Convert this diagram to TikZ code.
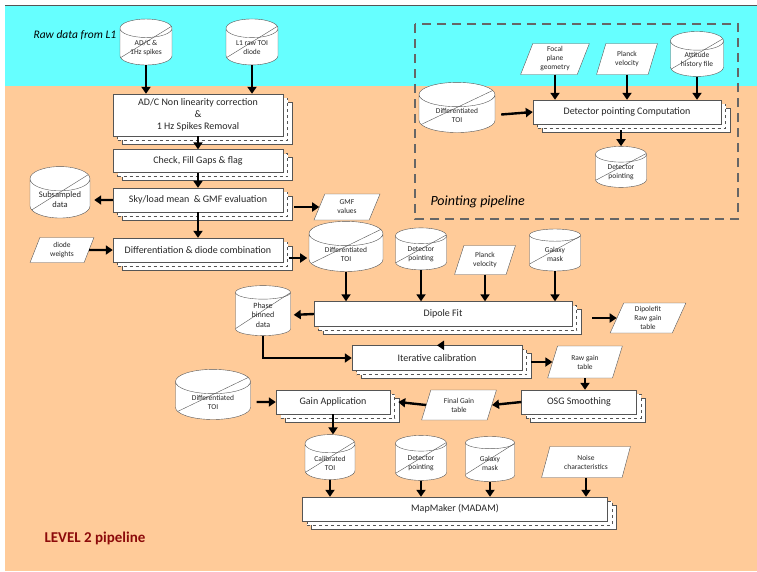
\documentclass[tikz,border=0pt]{standalone}
\usepackage{fontspec}
\setmainfont{Carlito}
\usetikzlibrary{shapes.geometric,shadows,arrows.meta,positioning}

\definecolor{rawcyan}{RGB}{102,255,255}
\definecolor{levelpeach}{RGB}{255,203,153}
\definecolor{edgegray}{RGB}{85,85,85}
\definecolor{titlered}{RGB}{140,10,10}

\tikzset{
    procbox/.style={rectangle, draw=edgegray, fill=white, align=center, inner sep=2pt,
        font=\fontsize{10}{12}\selectfont, text=black!85,
        copy shadow={shadow xshift=9pt, shadow yshift=-8pt, draw=edgegray},
        copy shadow={shadow xshift=4.5pt, shadow yshift=-4pt, draw=edgegray, dashed}},
    datastore/.style={cylinder, shape border rotate=90, aspect=0.55, draw=edgegray, fill=white,
        align=center, inner sep=1pt, font=\fontsize{7.5}{9}\selectfont, text=black!85,
        path picture={\draw[edgegray] ([yshift=7pt]path picture bounding box.south west)
            -- ([yshift=-7pt]path picture bounding box.north east);}},
    iodata/.style={trapezium, trapezium left angle=72, trapezium right angle=108,
        trapezium stretches=true, draw=edgegray, fill=white, align=center, inner sep=1pt,
        font=\fontsize{7.5}{9}\selectfont, text=black!85},
    flowarrow/.style={line width=2.4pt, -{Triangle[width=9pt,length=7pt]}}
}

\begin{document}
\begin{tikzpicture}[x=1pt,y=-1pt]
    \useasboundingbox (0,0) rectangle (757,571);
    \fill[white] (0,0) rectangle (757,571);
    \fill[rawcyan] (5,5) rectangle (757,86);
    \fill[levelpeach] (5,86) rectangle (757,571);
    \draw[edgegray, line width=1pt] (5,5) -- (757,5);

    \node[anchor=west, font=\fontsize{11.5}{13}\selectfont\itshape] (rawlabel) at (30,35) {Raw data from L1};
    \node[anchor=west, font=\fontsize{15}{17}\selectfont\bfseries, text=titlered] (leveltitle) at (41,538) {LEVEL 2 pipeline};

    \draw[gray!80!black, line width=2pt, dash pattern=on 9pt off 6pt] (415,24) rectangle (738,219);
    \node[anchor=west, font=\fontsize{14}{16}\selectfont\itshape] (pointlabel) at (427,202) {Pointing pipeline};

    \node[datastore, minimum width=52pt, minimum height=46pt] (rawadc) at (146,48) {AD/C \&\\1Hz spikes};
    \node[datastore, minimum width=52pt, minimum height=46pt] (rawtoi) at (252,48) {L1 raw TOI\\diode};

    \node[procbox, minimum width=170pt, minimum height=42pt] (nonlin) at (198,115) {AD/C Non linearity correction\\\&\\1 Hz Spikes Removal};
    \node[procbox, minimum width=170pt, minimum height=23pt] (gaps) at (198,161) {Check, Fill Gaps \& flag};
    \node[procbox, minimum width=170pt, minimum height=24pt] (skyload) at (198,200) {Sky/load mean\ \ \& GMF evaluation};
    \node[procbox, minimum width=170pt, minimum height=24pt] (diffcomb) at (198,250) {Differentiation \& diode combination};

    \node[datastore, minimum width=60pt, minimum height=44pt, font=\fontsize{8.5}{10}\selectfont] (subsampled) at (60,200) {Subsampled\\data};
    \node[iodata, minimum width=66pt, minimum height=26pt] (gmfvalues) at (347,207) {GMF\\values};
    \node[iodata, minimum width=64pt, minimum height=25pt] (diodeweights) at (62,250) {diode\\weights};

    \node[datastore, minimum width=74pt, minimum height=42pt] (difftoi) at (346,254) {Differentiated\\TOI};
    \node[datastore, minimum width=51pt, minimum height=42pt] (detpoint) at (421,254) {Detector\\pointing};
    \node[iodata, minimum width=61pt, minimum height=29pt] (planckvel) at (485,260) {Planck\\velocity};
    \node[datastore, minimum width=51pt, minimum height=42pt] (galmask) at (555,254) {Galaxy\\mask};

    \node[procbox, minimum width=258pt, minimum height=25pt] (dipolefit) at (443,314) {Dipole Fit};
    \node[datastore, minimum width=55pt, minimum height=50pt, font=\fontsize{8}{9.5}\selectfont] (phasebin) at (263,315) {Phase\\binned\\data};
    \node[iodata, minimum width=76pt, minimum height=30pt] (dipolegain) at (648,318) {Dipolefit\\Raw gain\\table};

    \node[procbox, minimum width=170pt, minimum height=25pt] (itercal) at (437,358) {Iterative calibration};
    \node[iodata, minimum width=75pt, minimum height=32pt] (rawgain) at (585,362) {Raw gain\\table};
    \node[procbox, minimum width=115pt, minimum height=24pt] (osgsmooth) at (579,402) {OSG Smoothing};
    \node[iodata, minimum width=75pt, minimum height=30pt] (finalgain) at (459,405) {Final Gain\\table};
    \node[procbox, minimum width=114pt, minimum height=24pt] (gainapp) at (333,402) {Gain Application};
    \node[datastore, minimum width=75pt, minimum height=40pt] (difftoib) at (213,402) {Differentiated\\TOI};

    \node[datastore, minimum width=50pt, minimum height=45pt] (caltoi) at (330,463) {Calibrated\\TOI};
    \node[datastore, minimum width=51pt, minimum height=45pt] (detpointb) at (421,463) {Detector\\pointing};
    \node[datastore, minimum width=49pt, minimum height=45pt] (galmaskb) at (490,463) {Galaxy\\mask};
    \node[iodata, minimum width=89pt, minimum height=31pt] (noise) at (586,462) {Noise\\characteristics};
    \node[procbox, minimum width=305pt, minimum height=24pt] (madam) at (455,509) {MapMaker (MADAM)};

    \node[iodata, minimum width=69pt, minimum height=31pt] (focalgeom) at (555,59) {Focal\\plane\\geometry};
    \node[iodata, minimum width=61pt, minimum height=31pt] (planckvelp) at (627,59) {Planck\\velocity};
    \node[datastore, minimum width=53pt, minimum height=45pt] (attitude) at (697,60) {Attitude\\history file};
    \node[procbox, minimum width=188pt, minimum height=24pt] (pointcomp) at (627,112) {Detector pointing Computation};
    \node[datastore, minimum width=76pt, minimum height=43pt] (difftoip) at (457,115) {Differentiated\\TOI};
    \node[datastore, minimum width=51pt, minimum height=41pt] (detpointp) at (621,172) {Detector\\pointing};

    \draw[flowarrow] (rawadc.south) -- (rawadc.south |- nonlin.north);
    \draw[flowarrow] (rawtoi.south) -- (rawtoi.south |- nonlin.north);
    \draw[flowarrow] (nonlin.south) -- (gaps.north);
    \draw[flowarrow] (gaps.south) -- (skyload.north);
    \draw[flowarrow] (skyload.south) -- (diffcomb.north);
    \draw[flowarrow, shorten >=4pt] (skyload.west) -- (subsampled.east);
    \draw[flowarrow] (gmfvalues.west -| skyload.east) ++(11,0) -- (gmfvalues.west);
    \draw[flowarrow] (diodeweights.east) -- (diffcomb.west);
    \draw[flowarrow] (diffcomb.east) ++(6,8) -- ++(18,0);

    \draw[flowarrow] (difftoi.south) -- (difftoi.south |- dipolefit.north);
    \draw[flowarrow] (detpoint.south) -- (detpoint.south |- dipolefit.north);
    \draw[flowarrow] (planckvel.south) -- (planckvel.south |- dipolefit.north);
    \draw[flowarrow] (galmask.south) -- (galmask.south |- dipolefit.north);
    \draw[flowarrow, shorten >=3pt] (dipolefit.west) -- (phasebin.east);
    \draw[flowarrow] (dipolegain.west -| dipolefit.east) ++(20,0) -- (dipolegain.west);
    \draw[flowarrow] (itercal.north -| dipolefit.south) -- (itercal.north);
    \draw[flowarrow] (phasebin.south) |- (itercal.west);
    \draw[flowarrow] (rawgain.west -| itercal.east) ++(9,0) -- (rawgain.west);
    \draw[flowarrow] (rawgain.south) -- (rawgain.south |- osgsmooth.north);
    \draw[flowarrow] (osgsmooth.west) -- (finalgain.east);
    \draw[flowarrow] (finalgain.west) -- ([xshift=8pt]gainapp.east);
    \draw[flowarrow, shorten <=6pt] (difftoib.east) -- (gainapp.west);
    \draw[flowarrow] (gainapp.south) -- (gainapp.south |- caltoi.north);

    \draw[flowarrow] (caltoi.south) -- (caltoi.south |- madam.north);
    \draw[flowarrow] (detpointb.south) -- (detpointb.south |- madam.north);
    \draw[flowarrow] (galmaskb.south) -- (galmaskb.south |- madam.north);
    \draw[flowarrow] (noise.south) -- (noise.south |- madam.north);

    \draw[flowarrow, shorten <=6pt] (difftoip.east) -- (pointcomp.west);
    \draw[flowarrow] (focalgeom.south) -- (focalgeom.south |- pointcomp.north);
    \draw[flowarrow] (planckvelp.south) -- (planckvelp.south |- pointcomp.north);
    \draw[flowarrow] (attitude.south) -- (attitude.south |- pointcomp.north);
    \draw[flowarrow] (detpointp.north |- pointcomp.south) ++(0,6) -- (detpointp.north);
\end{tikzpicture}
\end{document}
